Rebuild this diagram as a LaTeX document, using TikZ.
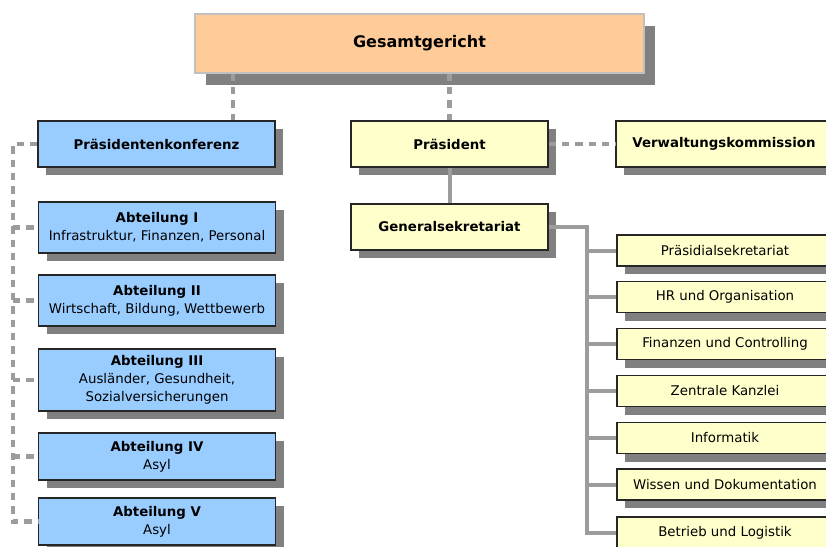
\documentclass[tikz,border=0pt]{standalone}
\usepackage{fontspec}
\setmainfont{DejaVu Sans}
\usetikzlibrary{shadows}
\definecolor{peach}{HTML}{FFCC99}
\definecolor{lblue}{HTML}{99CCFF}
\definecolor{lyellow}{HTML}{FFFFCC}
\definecolor{shadowc}{HTML}{808080}
\definecolor{linec}{HTML}{9C9C9C}
\definecolor{gborder}{HTML}{C0C0C0}
\tikzset{
  orgbox/.style={draw=black!85, line width=0.8pt, inner sep=0pt, align=center,
    font=\fontsize{10}{13.5}\selectfont,
    general shadow={fill=shadowc, shadow xshift=6pt, shadow yshift=-6.2pt}},
  topbox/.style={draw=gborder, line width=0.8pt, fill=peach, inner sep=0pt,
    minimum width=449*0.75pt, minimum height=59*0.75pt,
    font=\bfseries\fontsize{12}{14}\selectfont,
    general shadow={fill=shadowc, shadow xshift=8.25pt, shadow yshift=-9pt}},
  bluebox/.style={orgbox, fill=lblue, minimum width=237*0.75pt},
  yelbox/.style={orgbox, fill=lyellow, minimum width=197*0.75pt, minimum height=46*0.75pt, font=\bfseries\fontsize{10}{13.5}\selectfont},
  subbox/.style={orgbox, fill=lyellow, minimum width=216*0.75pt, minimum height=31*0.75pt},
  dashcon/.style={draw=linec, line width=3.6pt, dash pattern=on 5.5pt off 4.5pt},
  solidcon/.style={draw=linec, line width=3pt},
}
\begin{document}
\begin{tikzpicture}[x=0.75pt, y=-0.75pt]
\useasboundingbox (0,0) rectangle (826,547);
\clip (0,0) rectangle (826,547);

\node[topbox] (G) at (419.5,43.5) {Gesamtgericht};

\node[bluebox, minimum height=46*0.75pt, font=\bfseries\fontsize{10}{13.5}\selectfont] (PK) at (156.5,144) {Präsidentenkonferenz};
\node[bluebox, minimum height=51*0.75pt] (A1) at (157,227.5) {\textbf{Abteilung I}\\Infrastruktur, Finanzen, Personal};
\node[bluebox, minimum height=51*0.75pt] (A2) at (157,300.5) {\textbf{Abteilung II}\\Wirtschaft, Bildung, Wettbewerb};
\node[bluebox, minimum height=62*0.75pt] (A3) at (157,380) {\textbf{Abteilung III}\\Ausländer, Gesundheit,\\Sozialversicherungen};
\node[bluebox, minimum height=47*0.75pt] (A4) at (157,456.5) {\textbf{Abteilung IV}\\Asyl};
\node[bluebox, minimum height=47*0.75pt] (A5) at (157,521.5) {\textbf{Abteilung V}\\Asyl};

\node[yelbox] (P) at (449.5,144) {Präsident};
\node[yelbox, minimum width=216*0.75pt] (VK) at (724,144) {Verwaltungskommission};
\node[yelbox] (GS) at (449.5,227) {Generalsekretariat};

\node[subbox] (R1) at (725,250.5) {Präsidialsekretariat};
\node[subbox] (R2) at (725,297) {HR und Organisation};
\node[subbox] (R3) at (725,344) {Finanzen und Controlling};
\node[subbox] (R4) at (725,391) {Zentrale Kanzlei};
\node[subbox] (R5) at (725,438) {Informatik};
\node[subbox] (R6) at (725,484.5) {Wissen und Dokumentation};
\node[subbox] (R7) at (725,532.5) {Betrieb und Logistik};

% connectors
\coordinate (k1) at (233,0);
\coordinate (lbus) at (13,0);
\coordinate (rbus) at (587,0);

\draw[dashcon] (G.south -| k1) -- (PK.north -| k1);
\draw[dashcon] (G.south -| P.north) -- (P.north);
\draw[dashcon] (P.east) -- (VK.west);
\draw[solidcon] (P.south) -- (GS.north);

\draw[dashcon] (PK.west) -| (lbus |- A5.west) -- (A5.west);
\foreach \n in {A1,A2,A3,A4}
  \draw[dashcon] (lbus |- \n.west) -- (\n.west);

\draw[solidcon] (GS.east) -| (rbus |- R7.west) -- (R7.west);
\foreach \n in {R1,R2,R3,R4,R5,R6}
  \draw[solidcon] (rbus |- \n.west) -- (\n.west);
\end{tikzpicture}
\end{document}
